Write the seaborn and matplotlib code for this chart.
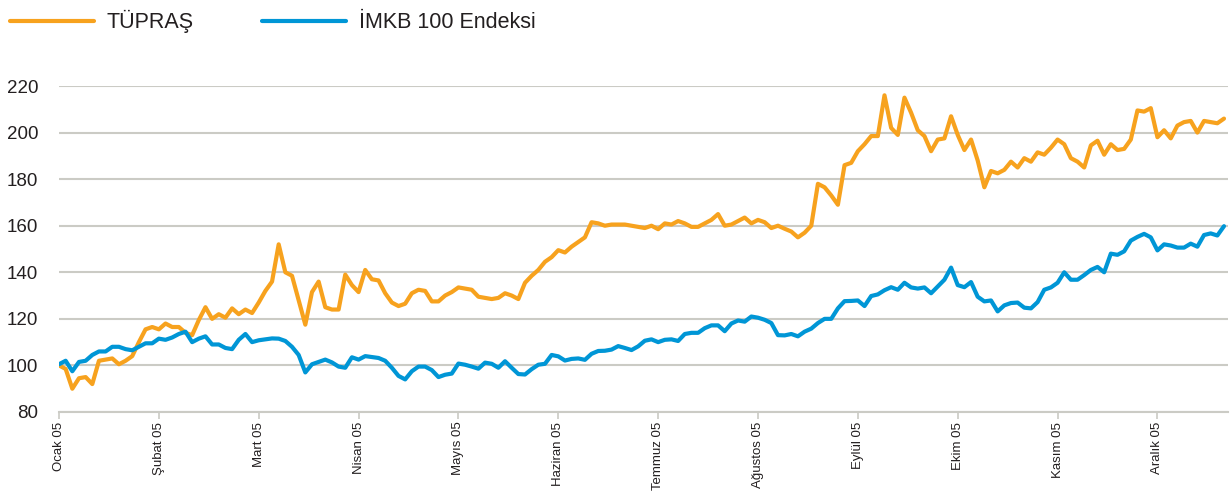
import seaborn as sns
import pandas as pd
import matplotlib.pyplot as plt
from matplotlib.lines import Line2D

month_labels = ['Ocak 05', 'Şubat 05', 'Mart 05', 'Nisan 05', 'Mayıs 05', 'Haziran 05',
                'Temmuz 05', 'Ağustos 05', 'Eylül 05', 'Ekim 05', 'Kasım 05', 'Aralık 05']
samples_per_month = 15

# values, 15 samples per month (December ends early)
tupras = [
    100, 98.5, 90, 94.5, 95, 92, 102, 102.5, 103, 100.5, 102, 104, 110, 115.5, 116.5,
    115.5, 118, 116.5, 116.5, 114, 113, 119.5, 125, 120, 122, 120.5, 124.5, 122, 124, 122.5,
    127, 132, 136, 152, 140, 138.5, 128, 117.5, 131.5, 136, 125, 124, 124, 139, 134.5,
    131.5, 141, 137, 136.5, 131, 127, 125.5, 126.5, 131, 132.5, 132, 127.5, 127.5, 130, 131.5,
    133.5, 133, 132.5, 129.5, 129, 128.5, 129, 131, 130, 128.5, 135.5, 138.5, 141, 144.5, 146.5,
    149.5, 148.5, 151, 153, 155, 161.5, 161, 160, 160.5, 160.5, 160.5, 160, 159.5, 159, 160,
    158.5, 161, 160.5, 162, 161, 159.5, 159.5, 161, 162.5, 165, 160, 160.5, 162, 163.5, 161,
    162.5, 161.5, 159, 160, 158.7, 157.5, 155, 157, 160, 178, 176.5, 173, 169, 186, 187,
    192, 195, 198.5, 198.5, 216, 202, 199, 215, 208.5, 201, 198.5, 192, 197, 197.5, 207,
    199, 192.5, 197, 188, 176.5, 183.5, 182.5, 184, 187.5, 185, 189, 187.5, 191.5, 190.5, 193.5,
    197, 195, 189, 187.5, 185, 194.5, 196.5, 190.5, 195, 192.5, 193, 197, 209.5, 209, 210.5,
    198, 201, 197.5, 203, 204.5, 205, 200, 205, 204.5, 204, 206,
]
imkb = [
    100.5, 102, 97.5, 101.5, 102, 104.5, 106, 106, 108, 108, 107, 106.5, 108, 109.5, 109.5,
    111.5, 111, 112, 113.5, 114.5, 110, 111.5, 112.5, 109, 109, 107.5, 107, 111, 113.5, 110,
    110.8, 111.2, 111.6, 111.5, 110.5, 108, 104.5, 97, 100.5, 101.5, 102.5, 101.3, 99.5, 99, 103.5,
    102.5, 104, 103.6, 103.2, 102, 99, 95.5, 94, 97.5, 99.5, 99.5, 98, 95, 96, 96.5,
    100.8, 100.3, 99.5, 98.6, 101.2, 100.7, 99, 101.8, 99, 96.3, 96.1, 98.4, 100.3, 100.7, 104.5,
    103.9, 102.1, 102.8, 103, 102.4, 105, 106.2, 106.3, 106.8, 108.3, 107.5, 106.6, 108.2, 110.6, 111.2,
    110, 111, 111.2, 110.5, 113.5, 114, 114, 116, 117.2, 117.2, 114.7, 118, 119.3, 118.8, 121,
    120.5, 119.6, 118.2, 113, 112.9, 113.5, 112.5, 114.5, 115.8, 118.2, 120, 120, 124.5, 127.6, 127.7,
    127.9, 125.5, 129.8, 130.5, 132.3, 133.6, 132.5, 135.5, 133.5, 133, 133.5, 131, 133.9, 136.8, 142,
    134.5, 133.6, 135.8, 129.5, 127.5, 127.9, 123.2, 125.8, 126.8, 127, 124.8, 124.5, 127.2, 132.5, 133.5,
    135.5, 140, 136.8, 136.8, 138.8, 141, 142.3, 140, 148, 147.5, 149, 153.6, 155.2, 156.5, 155,
    149.4, 152, 151.5, 150.6, 150.6, 152.3, 151, 156, 156.7, 155.8, 159.8,
]
series_names = ['TÜPRAŞ', 'İMKB 100 Endeksi']
colors = {'TÜPRAŞ': '#F7A21E', 'İMKB 100 Endeksi': '#0096D6'}

df = pd.concat([
    pd.DataFrame({'gun': range(len(tupras)), 'deger': tupras, 'seri': series_names[0]}),
    pd.DataFrame({'gun': range(len(imkb)), 'deger': imkb, 'seri': series_names[1]}),
])

sns.set_theme(style='white')
plt.rcParams['font.family'] = ['Liberation Sans', 'DejaVu Sans']
grid_color = '#CBCBC5'
text_color = '#231F20'

fig = plt.figure(figsize=(12.31, 4.91), dpi=100)
ax = fig.add_axes([59 / 1231, 1 - 412 / 491, (1228 - 59) / 1231, (412 - 86) / 491])

sns.lineplot(data=df, x='gun', y='deger', hue='seri', palette=colors,
             linewidth=3, legend=False, ax=ax)

ax.set_xlim(0, len(tupras) - 1 + 0.6)
ax.set_ylim(80, 220)
ax.set_yticks(range(80, 221, 20))
ax.set_xticks([i * samples_per_month for i in range(len(month_labels))])
ax.set_xticklabels(month_labels, rotation=90, fontsize=9.5, color=text_color)
ax.tick_params(axis='y', length=0, pad=15, labelsize=13.5, labelcolor=text_color)
ax.tick_params(axis='x', length=5, width=1.2, color=grid_color, pad=2, direction='out',
               bottom=True)
ax.set_xlabel('')
ax.set_ylabel('')

ax.yaxis.grid(True, color=grid_color, linewidth=1.5)
ax.xaxis.grid(False)
for side in ['top', 'left', 'right']:
    ax.spines[side].set_visible(False)
ax.spines['bottom'].set_color(grid_color)
ax.spines['bottom'].set_linewidth(1.5)

handles = [Line2D([], [], color=colors[n], linewidth=3) for n in series_names]
fig.legend(handles, series_names, loc='upper left', bbox_to_anchor=(10 / 1231, 1 - 10 / 491),
           ncol=2, frameon=False, fontsize=15.5, borderpad=0, borderaxespad=0,
           handlelength=3.9, handletextpad=0.6, columnspacing=3.15, labelcolor=text_color)

fig.savefig('out.png', dpi=100)
